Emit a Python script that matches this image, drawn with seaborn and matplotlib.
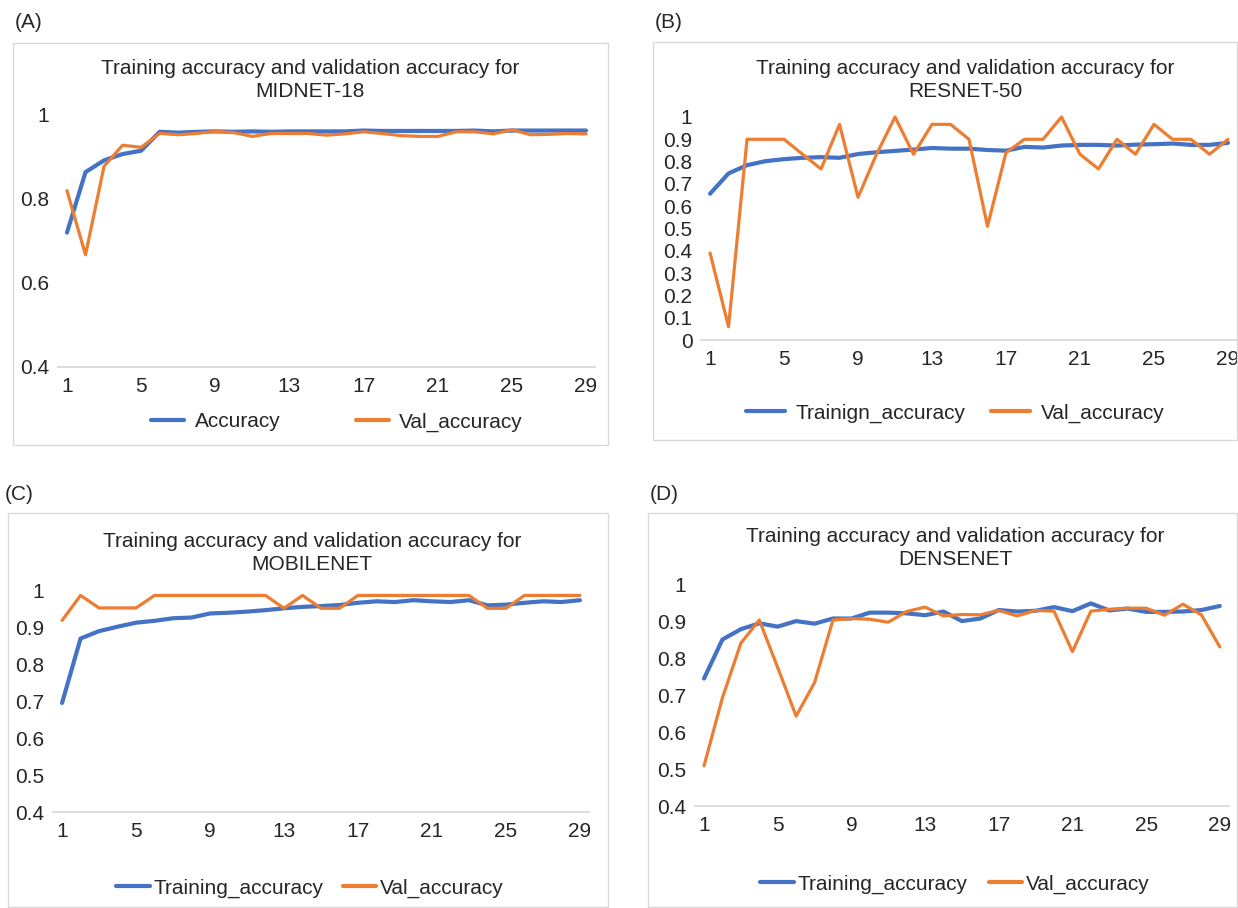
import numpy as np
import pandas as pd
import matplotlib
matplotlib.use("Agg")
import matplotlib.pyplot as plt
from matplotlib.patches import Rectangle
from matplotlib.lines import Line2D
import seaborn as sns

# ---------------- data ----------------
epochs = list(range(1, 30))
xtick_vals = [1, 5, 9, 13, 17, 21, 25, 29]

midnet_train = [0.72, 0.864, 0.892, 0.907, 0.915, 0.960, 0.958, 0.960, 0.961, 0.960,
                0.961, 0.960, 0.961, 0.961, 0.961, 0.961, 0.963, 0.962, 0.962, 0.962,
                0.962, 0.962, 0.963, 0.961, 0.963, 0.963, 0.963, 0.963, 0.963]
midnet_val = [0.82, 0.667, 0.878, 0.928, 0.923, 0.956, 0.953, 0.956, 0.961, 0.958,
              0.949, 0.956, 0.956, 0.956, 0.952, 0.955, 0.960, 0.956, 0.951, 0.949,
              0.949, 0.960, 0.960, 0.955, 0.965, 0.953, 0.954, 0.956, 0.955]

resnet_train = [0.656, 0.747, 0.784, 0.802, 0.811, 0.817, 0.820, 0.817, 0.834, 0.842,
                0.848, 0.854, 0.861, 0.858, 0.858, 0.852, 0.849, 0.866, 0.863, 0.872,
                0.875, 0.875, 0.872, 0.876, 0.878, 0.881, 0.875, 0.875, 0.884]
resnet_val = [0.39, 0.06, 0.90, 0.90, 0.90, 0.833, 0.767, 0.967, 0.64, 0.833,
              1.0, 0.833, 0.967, 0.967, 0.90, 0.51, 0.84, 0.90, 0.90, 1.0,
              0.833, 0.767, 0.90, 0.833, 0.967, 0.90, 0.90, 0.833, 0.90]

mobilenet_train = [0.696, 0.871, 0.891, 0.903, 0.914, 0.919, 0.926, 0.928, 0.939, 0.941,
                   0.944, 0.948, 0.953, 0.957, 0.959, 0.962, 0.968, 0.972, 0.970, 0.975,
                   0.972, 0.970, 0.975, 0.961, 0.963, 0.968, 0.972, 0.970, 0.975]
mobilenet_val = [0.92, 0.988, 0.954, 0.954, 0.954, 0.988, 0.988, 0.988, 0.988, 0.988,
                 0.988, 0.988, 0.953, 0.988, 0.953, 0.953, 0.988, 0.988, 0.988, 0.988,
                 0.988, 0.988, 0.988, 0.953, 0.953, 0.988, 0.988, 0.988, 0.988]

densenet_train = [0.746, 0.852, 0.880, 0.896, 0.887, 0.902, 0.895, 0.909, 0.909, 0.925,
                  0.925, 0.923, 0.918, 0.928, 0.902, 0.909, 0.932, 0.928, 0.930, 0.940,
                  0.929, 0.950, 0.931, 0.936, 0.927, 0.927, 0.928, 0.932, 0.943]
densenet_val = [0.509, 0.694, 0.842, 0.905, 0.776, 0.644, 0.735, 0.905, 0.909, 0.907,
                0.899, 0.928, 0.940, 0.916, 0.920, 0.919, 0.931, 0.916, 0.931, 0.929,
                0.819, 0.929, 0.934, 0.937, 0.937, 0.918, 0.948, 0.919, 0.832]

panel_letters = ["(A)", "(B)", "(C)", "(D)"]
panel_titles = ["Training accuracy and validation accuracy for\nMIDNET-18",
                "Training accuracy and validation accuracy for\nRESNET-50",
                "Training accuracy and validation accuracy for\nMOBILENET",
                "Training accuracy and validation accuracy for\nDENSENET"]
train_labels = ["Accuracy", "Trainign_accuracy", "Training_accuracy", "Training_accuracy"]
val_label = "Val_accuracy"
ytick_sets = [[0.4, 0.6, 0.8, 1.0],
              [round(v * 0.1, 1) for v in range(0, 11)],
              [0.4, 0.5, 0.6, 0.7, 0.8, 0.9, 1.0],
              [0.4, 0.5, 0.6, 0.7, 0.8, 0.9, 1.0]]
train_series = [midnet_train, resnet_train, mobilenet_train, densenet_train]
val_series = [midnet_val, resnet_val, mobilenet_val, densenet_val]

# ---------------- style ----------------
sns.set_style("white")
plt.rcParams['font.family'] = ['Liberation Sans', 'DejaVu Sans']
TXT = "#262626"
BLUE = "#4472C4"
ORANGE = "#ED7D31"
GRID = "#D9D9D9"
FS = 15

W, H = 1238, 908
fig = plt.figure(figsize=(W / 100, H / 100), dpi=100)
fig.patch.set_facecolor("white")


def rect(x0, y0, x1, y1):
    return [x0 / W, 1 - y1 / H, (x1 - x0) / W, (y1 - y0) / H]


def fx(x):
    return x / W


def fy(y):
    return 1 - y / H


# layout per panel (pixels)
layouts = [
    dict(box=(13, 43, 608, 445), letter=(15, 22), title=(310, 80),
         ax=(57.7, 115, 595.3, 367), ylim=(0.4, 1.0),
         leg=(337, 422), colsp=3.6, hl=1.6, htp=0.5),
    dict(box=(653, 42, 1237, 440), letter=(655, 22), title=(965, 80),
         ax=(700.8, 117, 1237.2, 340), ylim=(0.0, 1.0),
         leg=(955, 413), colsp=1.2, hl=1.9, htp=0.5),
    dict(box=(8, 513, 608, 907), letter=(5, 494), title=(312, 553),
         ax=(52.8, 591, 589.2, 812), ylim=(0.4, 1.0),
         leg=(310, 888), colsp=0.9, hl=1.6, htp=0.2),
    dict(box=(648, 513, 1237, 907), letter=(650, 494), title=(955, 548),
         ax=(694.8, 585, 1229, 806), ylim=(0.4, 1.0),
         leg=(955, 884), colsp=1.0, hl=1.6, htp=0.2),
]

for i, L in enumerate(layouts):
    bx0, by0, bx1, by1 = L["box"]
    fig.patches.append(Rectangle((fx(bx0), fy(by1)), (bx1 - bx0) / W, (by1 - by0) / H,
                                 transform=fig.transFigure, fill=False,
                                 edgecolor=GRID, lw=1.0, zorder=0))
    fig.text(fx(L["letter"][0]), fy(L["letter"][1]), panel_letters[i],
             ha="left", va="center", fontsize=FS, color=TXT)
    fig.text(fx(L["title"][0]), fy(L["title"][1]), panel_titles[i],
             ha="center", va="center", fontsize=FS, color=TXT, linespacing=1.32)

    ax = fig.add_axes(rect(*L["ax"]))
    ax.set_facecolor("none")
    df = pd.DataFrame({"epoch": epochs, "train": train_series[i], "val": val_series[i]})
    sns.lineplot(data=df, x="epoch", y="train", ax=ax, color=BLUE, lw=3.0,
                 clip_on=False, legend=False)
    sns.lineplot(data=df, x="epoch", y="val", ax=ax, color=ORANGE, lw=2.3,
                 clip_on=False, legend=False)
    ax.set_xlim(0.5, 29.5)
    ax.set_ylim(*L["ylim"])
    ax.set_xticks(xtick_vals)
    ax.set_xticklabels([str(v) for v in xtick_vals])
    ax.set_yticks(ytick_sets[i])
    ax.set_yticklabels(["{:g}".format(v) for v in ytick_sets[i]])
    ax.tick_params(axis="both", length=0, labelsize=FS, colors=TXT)
    ax.tick_params(axis="x", pad=7)
    ax.tick_params(axis="y", pad=6)
    ax.set_xlabel("")
    ax.set_ylabel("")
    for s in ["top", "right", "left"]:
        ax.spines[s].set_visible(False)
    ax.spines["bottom"].set_color(GRID)
    ax.spines["bottom"].set_linewidth(1.3)
    ax.grid(False)

    handles = [Line2D([0], [0], color=BLUE, lw=3.0),
               Line2D([0], [0], color=ORANGE, lw=3.0)]
    fig.legend(handles, [train_labels[i], val_label], loc="center",
               bbox_to_anchor=(fx(L["leg"][0]), fy(L["leg"][1])),
               bbox_transform=fig.transFigure, ncol=2, frameon=False,
               fontsize=FS, handlelength=L["hl"], handletextpad=L["htp"],
               columnspacing=L["colsp"], labelcolor=TXT)

fig.savefig("out.png", dpi=100, facecolor="white")
